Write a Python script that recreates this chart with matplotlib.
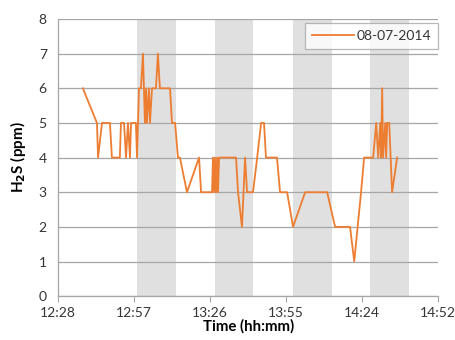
import numpy as np
import pandas as pd
import matplotlib
matplotlib.use("Agg")
import matplotlib.pyplot as plt
import matplotlib.dates as mdates

# ---- data ----
DAY = "2014-07-08"
times = [
    "12:38:15", "12:43:35", "12:44:00", "12:45:30", "12:48:30", "12:49:15",
    "12:52:15", "12:52:40", "12:53:50", "12:54:35", "12:55:20", "12:56:05",
    "12:56:30", "12:58:20", "12:58:45", "12:59:30", "13:00:15", "13:01:00",
    "13:01:45", "13:02:10", "13:02:30", "13:03:15", "13:03:40", "13:04:25",
    "13:05:55", "13:06:40", "13:07:25", "13:11:15", "13:12:00", "13:13:10",
    "13:14:15", "13:15:00", "13:17:40", "13:22:15", "13:23:00", "13:27:10",
    "13:27:30", "13:27:55", "13:28:15", "13:28:40", "13:29:05", "13:29:25",
    "13:29:50", "13:36:15", "13:37:00", "13:38:30", "13:39:40", "13:40:25",
    "13:42:40", "13:44:15", "13:45:45", "13:46:50", "13:47:35", "13:51:45",
    "13:52:55", "13:55:35", "13:57:50", "14:02:25", "14:10:45", "14:13:45",
    "14:19:25", "14:21:00", "14:23:35", "14:24:45", "14:28:10", "14:29:20",
    "14:30:05", "14:30:50", "14:31:10", "14:31:35", "14:31:55", "14:32:45",
    "14:33:05", "14:33:30", "14:34:15", "14:35:20", "14:37:15",
]
h2s = [
    6, 5, 4, 5, 5, 4,
    4, 5, 5, 4, 5, 4,
    5, 5, 4, 6, 6, 7,
    5, 6, 5, 6, 5, 6,
    6, 7, 6, 6, 5, 5,
    4, 4, 3, 4, 3, 3,
    4, 3, 4, 3, 4, 3,
    4, 4, 3, 2, 4, 3,
    3, 4, 5, 5, 4, 4,
    3, 3, 2, 3, 3, 2,
    2, 1, 3, 4, 4, 5,
    4, 5, 4, 6, 4, 5,
    4, 5, 5, 3, 4,
]
label = "08-07-2014"

# grey shaded intervals
band_start = ["12:58:45", "13:28:15", "13:57:50", "14:27:00"]
band_end = ["13:13:30", "13:42:45", "14:12:40", "14:41:50"]

# axis range (Excel: 0.52 .. 0.62 day, step 0.02)
x_start = "12:28:48"
x_end = "14:52:48"

# ---- styling ----
ORANGE = "#ED7D31"
GRID = "#a6a6a6"
BAND = "#e0e0e0"
TXT = "#353535"

plt.rcParams["font.family"] = ["Lato", "DejaVu Sans"]


def ts(s):
    return pd.Timestamp(f"{DAY} {s}")


t = pd.to_datetime([f"{DAY} {s}" for s in times])

fig = plt.figure(figsize=(4.56, 3.40), dpi=100)
ax = fig.add_axes([0.127, 0.129, 0.834, 0.815])

for a, b in zip(band_start, band_end):
    ax.axvspan(ts(a), ts(b), color=BAND, lw=0, zorder=0)

ax.plot(t, h2s, color=ORANGE, lw=1.3, label=label, zorder=3)

ax.set_xlim(ts(x_start), ts(x_end))
ax.set_ylim(0, 8)
ax.set_yticks(range(0, 9))
ax.set_xticks(pd.date_range(ts(x_start), ts(x_end), freq="1728s"))
ax.xaxis.set_major_formatter(mdates.DateFormatter("%H:%M"))

ax.grid(axis="y", color=GRID, lw=0.9, zorder=1)
ax.set_axisbelow(True)

for side in ["top", "right"]:
    ax.spines[side].set_visible(False)
for side in ["left", "bottom"]:
    ax.spines[side].set_color(GRID)
    ax.spines[side].set_linewidth(0.9)

ax.tick_params(axis="y", length=0, labelsize=10, labelcolor=TXT, pad=8)
ax.tick_params(axis="x", length=4, color=GRID, labelsize=10,
               labelcolor=TXT, pad=4)

ax.set_xlabel("Time (hh:mm)", fontsize=10.8, fontweight="bold",
              labelpad=0, color="black")
ax.set_ylabel("H$_\\mathbf{2}$S (ppm)", fontsize=11, fontweight="bold",
              labelpad=8, color="black")

leg = ax.legend(loc="upper right", bbox_to_anchor=(1.0, 0.985),
                borderaxespad=0, fontsize=10, frameon=True, fancybox=False,
                handlelength=3.0, handletextpad=0.2, borderpad=0.5)
leg.get_frame().set_edgecolor(GRID)
leg.get_frame().set_linewidth(0.9)
for txt in leg.get_texts():
    txt.set_color(TXT)

fig.savefig("out.png", dpi=100)
